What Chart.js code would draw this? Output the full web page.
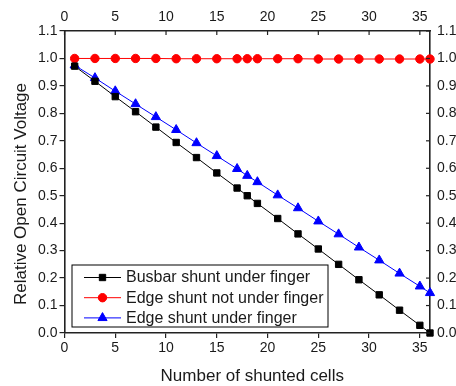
<!DOCTYPE html>
<html>
<head>
<meta charset="utf-8">
<script src="https://cdn.jsdelivr.net/npm/chart.js@4"></script>
<style>
  html, body { margin: 0; padding: 0; background: #fff; overflow: hidden; }
  #wrap { width: 456px; height: 386px; }
</style>
</head>
<body>
<div id="wrap"><canvas id="voc-chart" width="456" height="386"></canvas></div>
<script>
// number of shunted cells (x positions of the markers)
const cells = [1, 3, 5, 7, 9, 11, 13, 15, 17, 18, 19, 21, 23, 25, 27, 29, 31, 33, 35, 36];

// relative Voc
const busbarUnderFinger = [0.972, 0.917, 0.861, 0.806, 0.750, 0.694, 0.639, 0.583, 0.528, 0.500,
                           0.472, 0.417, 0.361, 0.306, 0.250, 0.194, 0.139, 0.083, 0.028, 0.000];
const edgeNotUnderFinger = [1.000, 1.000, 1.000, 1.000, 1.000, 0.999, 0.999, 0.999, 0.999, 0.999,
                            0.999, 0.999, 0.999, 0.998, 0.998, 0.998, 0.998, 0.998, 0.998, 0.998];
const edgeUnderFinger = [0.975, 0.929, 0.881, 0.834, 0.787, 0.740, 0.692, 0.645, 0.598, 0.573,
                         0.550, 0.502, 0.455, 0.407, 0.360, 0.312, 0.265, 0.217, 0.170, 0.146];

const seriesNames = ['Busbar shunt under finger', 'Edge shunt not under finger', 'Edge shunt under finger'];
const xTicks = [0, 5, 10, 15, 20, 25, 30, 35];
const xTitle = 'Number of shunted cells';
const yTitle = 'Relative Open Circuit Voltage';

const FONT = 'Liberation Sans, Arial, sans-serif';
const TXT = '#1a1a1a';

function toPoints(vals) {
    return cells.map((c, i) => ({ x: c, y: vals[i] }));
}

function onlyXTicks(scale) {
    scale.ticks = xTicks.map(v => ({ value: v }));
}

// inward ticks on the mirrored axes (top and right), axis titles, legend box inside the plot
const extras = {
    id: 'extras',
    afterDraw(chart) {
        const ctx = chart.ctx;
        const top = chart.scales.x2;
        const right = chart.scales.y2;
        const area = chart.chartArea;
        ctx.save();
        ctx.strokeStyle = '#222';
        ctx.lineWidth = 1.2;
        top.ticks.forEach(t => {
            const px = top.getPixelForValue(t.value);
            ctx.beginPath();
            ctx.moveTo(px, top.bottom);
            ctx.lineTo(px, top.bottom + 4);
            ctx.stroke();
        });
        right.ticks.forEach(t => {
            const py = right.getPixelForValue(t.value);
            ctx.beginPath();
            ctx.moveTo(right.left, py);
            ctx.lineTo(right.left - 4, py);
            ctx.stroke();
        });

        // axis titles
        ctx.fillStyle = TXT;
        ctx.font = '17px ' + FONT;
        ctx.textAlign = 'center';
        ctx.textBaseline = 'alphabetic';
        ctx.fillText(xTitle, (area.left + area.right) / 2 + 5, 381);
        ctx.save();
        ctx.translate(25.5, (area.top + area.bottom) / 2 + 12);
        ctx.rotate(-Math.PI / 2);
        ctx.fillText(yTitle, 0, 0);
        ctx.restore();

        // legend
        const bx = area.left + 7.5, bw = 256, bh = 62;
        const by = area.bottom - 6 - bh;
        ctx.textAlign = 'left';
        ctx.fillStyle = '#fff';
        ctx.fillRect(bx, by, bw, bh);
        ctx.strokeStyle = '#000';
        ctx.lineWidth = 1;
        ctx.strokeRect(bx, by, bw, bh);
        ctx.font = '16px ' + FONT;
        ctx.textBaseline = 'middle';
        chart.data.datasets.forEach((ds, i) => {
            const y = by + 12.5 + i * 20.2;
            ctx.strokeStyle = ds.borderColor;
            ctx.lineWidth = 1;
            ctx.beginPath();
            ctx.moveTo(bx + 12, y);
            ctx.lineTo(bx + 49, y);
            ctx.stroke();
            ctx.fillStyle = ds.pointBackgroundColor;
            ctx.strokeStyle = ds.pointBorderColor;
            Chart.helpers.drawPoint(ctx, {
                pointStyle: ds.pointStyle, radius: ds.pointRadius, borderWidth: 1, rotation: 0
            }, bx + 30.5, y);
            ctx.fillStyle = TXT;
            ctx.fillText(ds.label, bx + 54, y + 0.5);
        });
        ctx.restore();
    }
};

const ctx = document.getElementById('voc-chart').getContext('2d');

new Chart(ctx, {
    type: 'line',
    data: {
        datasets: [
            {
                label: seriesNames[0],
                data: toPoints(busbarUnderFinger),
                borderColor: '#000000',
                backgroundColor: '#000000',
                pointBackgroundColor: '#000000',
                pointBorderColor: '#000000',
                pointStyle: 'rect',
                pointRadius: 4.5,
                borderWidth: 1
            },
            {
                label: seriesNames[1],
                data: toPoints(edgeNotUnderFinger),
                borderColor: '#ff0000',
                backgroundColor: '#ff0000',
                pointBackgroundColor: '#ff0000',
                pointBorderColor: '#ff0000',
                pointStyle: 'circle',
                pointRadius: 4.2,
                borderWidth: 1
            },
            {
                label: seriesNames[2],
                data: toPoints(edgeUnderFinger),
                borderColor: '#0000ff',
                backgroundColor: '#0000ff',
                pointBackgroundColor: '#0000ff',
                pointBorderColor: '#0000ff',
                pointStyle: 'triangle',
                pointRadius: 5.3,
                borderWidth: 1
            }
        ]
    },
    options: {
        responsive: false,
        animation: false,
        clip: false,
        layout: { padding: 0 },
        plugins: {
            legend: { display: false },
            tooltip: { enabled: false }
        },
        scales: {
            x: {
                type: 'linear',
                position: 'bottom',
                min: 0,
                max: 36,
                afterBuildTicks: onlyXTicks,
                afterFit: s => { s.height = 53; },
                grid: { drawOnChartArea: false, tickLength: 5, color: '#222', lineWidth: 1.2 },
                border: { color: '#222', width: 1.6 },
                ticks: { font: { family: FONT, size: 14 }, color: TXT, padding: 2, maxRotation: 0 }
            },
            x2: {
                type: 'linear',
                position: 'top',
                min: 0,
                max: 36,
                afterBuildTicks: onlyXTicks,
                afterFit: s => { s.height = 31; },
                grid: { drawOnChartArea: false, drawTicks: false },
                border: { color: '#222', width: 1.6 },
                ticks: { font: { family: FONT, size: 14 }, color: TXT, padding: 5, maxRotation: 0 }
            },
            y: {
                type: 'linear',
                position: 'left',
                min: 0,
                max: 1.1,
                afterFit: s => { s.width = 64.5; },
                grid: { drawOnChartArea: false, tickLength: 5, color: '#222', lineWidth: 1.2 },
                border: { color: '#222', width: 1.6 },
                ticks: {
                    stepSize: 0.1,
                    font: { family: FONT, size: 14 },
                    color: TXT,
                    padding: 2,
                    callback: v => v.toFixed(1)
                }
            },
            y2: {
                type: 'linear',
                position: 'right',
                min: 0,
                max: 1.1,
                afterFit: s => { s.width = 26; },
                grid: { drawOnChartArea: false, drawTicks: false },
                border: { color: '#222', width: 1.6 },
                ticks: {
                    stepSize: 0.1,
                    font: { family: FONT, size: 14 },
                    color: TXT,
                    padding: 7,
                    callback: v => v.toFixed(1)
                }
            }
        }
    },
    plugins: [extras]
});
</script>
</body>
</html>
